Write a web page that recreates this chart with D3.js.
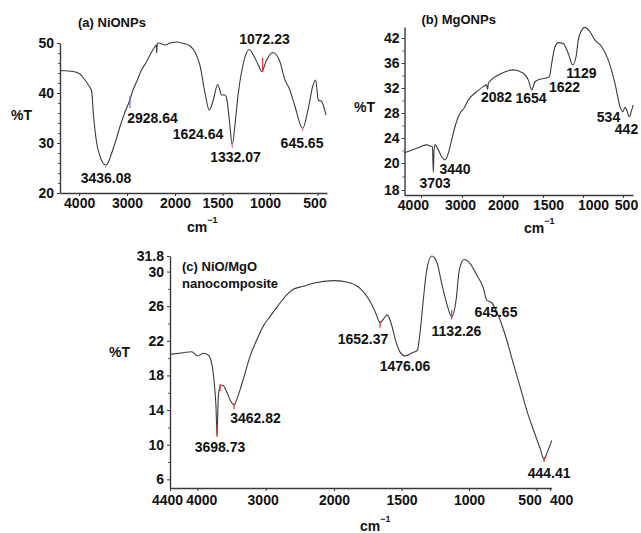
<!DOCTYPE html>
<html><head><meta charset="utf-8">
<script src="https://cdn.jsdelivr.net/npm/d3@7"></script>
<style>
body{margin:0;background:#fff;}
svg text{font-family:"Liberation Sans",Arial,sans-serif;font-weight:bold;fill:#111;}
</style></head><body>
<svg id="chart" width="641" height="533"></svg>
<script>
// ---------- Panel (a) NiONPs ----------
const aWave = [4385,4122,3983,3878,3795,3738,3705,3634,3565,3503,3446,3398,3321,3231,3148,3043,2954,2876,2799,2710,2591,2501,2417,2392,2382,2372,2349,2209,2104,1982,1926,1884,1842,1789,1737,1684,1639,1597,1551,1508,1474,1456,1428,1397,1368,1334,1281,1218,1176,1123,1087,1042,972,902,842,797,737,656,597,551,519,492,457,411];
const aT = [44.5,44.3,43.8,42.6,41.4,40.3,36.0,30.0,27.3,26.0,25.6,26.0,28.0,30.6,33.3,36.2,38.3,40.6,42.3,44.4,46.3,48.0,49.3,49.6,48.0,49.8,50.0,49.6,50.0,50.2,50.0,49.8,49.4,48.2,45.5,40.0,36.6,38.6,41.7,39.6,39.6,38.9,34.6,29.6,33.8,39.9,45.9,48.7,47.6,45.6,44.3,46.3,48.1,46.6,42.6,40.9,37.3,32.9,36.9,41.3,42.6,38.6,38.3,35.6];
const aXTicks = [4000,3000,2000,1500,1000,500];
const aYTicks = [20,30,40,50];
const aYMinor = [22,24,26,28,32,34,36,38,42,44,46,48];
const aPeakText = ["3436.08","2928.64","1624.64","1332.07","1072.23","645.65"];
const aPeakLabelWave = [3440,2470,1758,1363,1058,663];
const aPeakLabelT = [23,35,31.8,27.2,50.8,30];
const aMarkWave = [2939,1077,3446,1397,656];
const aMarkTop = [39.4,47.0,25.7,29.8,33.0];
const aMarkBottom = [37.0,44.2,25.0,29.0,32.3];
const aMarkColor = ["#6b6bdc","#d8323c","#f08080","#f08080","#f08080"];

// ---------- Panel (b) MgONPs ----------
const bWave = [4400,4103,3859,3762,3720,3698,3680,3657,3576,3494,3413,3333,3250,3170,3048,2950,2845,2641,2463,2397,2378,2353,2076,1871,1746,1684,1641,1600,1537,1475,1421,1391,1350,1309,1246,1184,1129,1087,1059,1016,975,912,850,766,684,600,537,504,475,454,421,391,371];
const bT = [21.65,22.35,22.9,22.7,22.6,19.3,22.0,22.9,22.1,21.0,20.5,21.55,23.7,25.8,27.95,28.75,30.1,31.4,32.3,32.5,31.8,32.8,34.2,34.9,34.35,33.3,31.7,33.0,33.4,33.55,33.8,35.95,39.9,40.9,40.6,38.3,35.7,37.5,41.5,43.9,44.6,43.5,41.5,39.9,36.7,32.7,29.0,28.2,28.9,28.5,27.4,28.5,29.3];
const bXTicks = [4000,3000,2000,1500,1000,500];
const bYTicks = [18,20,24,28,32,36,42];
const bYMinor = [19,22,26,30,34,39];
const bPeakText = ["3440","3703","2082","1654","1622","1129","534","442"];
const bPeakLabelWave = [3169,3657,2158,1650,1231,1019,681,456];
const bPeakLabelT = [19.53,18.54,30.6,30.35,32.1,34.45,27.4,25.4];

// ---------- Panel (c) NiO/MgO nanocomposite ----------
const cWave = [4400,4205,4082,3995,3913,3840,3790,3752,3727,3712,3693,3668,3635,3580,3522,3463,3424,3376,3302,3229,3131,3035,2937,2815,2692,2596,2449,2303,2010,1906,1807,1746,1696,1659,1630,1605,1573,1541,1511,1474,1424,1383,1363,1339,1313,1276,1239,1202,1165,1128,1096,1072,1037,993,943,894,869,832,770,721,672,622,573,523,474,444,424,387];
const cT = [20.44,20.63,20.74,20.25,20.56,20.36,19.4,17.1,14.4,11.1,15.55,16.7,16.9,16.3,15.2,14.6,15.2,16.3,18.25,20.2,22.1,23.7,24.8,26.1,27.3,27.95,28.3,28.65,28.95,28.8,28.05,26.9,25.4,24.1,24.6,25.0,23.8,21.9,20.7,20.25,20.6,20.9,22.9,26.7,30.2,31.8,31.1,28.6,26.3,24.8,26.7,30.2,31.4,30.95,29.6,28.1,26.7,26.4,24.4,22.1,19.4,16.7,14.0,11.7,9.6,8.3,9.0,10.5];
const cXTicks = [4400,4000,3000,2000,1500,1000,500,400];
const cYTicks = [6,10,14,18,22,26,30,31.8];
const cYMinor = [8,12,16,20,24,28];
const cPeakText = ["3462.82","3698.73","1652.37","1476.06","1132.26","645.65","444.41"];
const cPeakLabelWave = [3149,3668,1785,1474,1093,800,407];
const cPeakLabelT = [13.12,9.77,22.18,19.09,23.17,25.37,6.7];
const cMarkWave = [3712,3668,3463,1659,1128,444];
const cMarkTop = [12.4,17.0,14.8,24.3,25.6,8.6];
const cMarkBottom = [10.9,16.2,14.1,23.5,24.5,8.0];
const cMarkColor = ["#e03030","#e03030","#e03030","#e03030","#e03030","#e03030"];

const svg = d3.select("#chart");

function styleAxis(sel){
  sel.attr("font-family",null).attr("font-size",null);
  sel.select(".domain").attr("stroke","#3a3a3a").attr("stroke-width",1.4);
  sel.selectAll(".tick line").attr("stroke","#3a3a3a").attr("stroke-width",1);
  sel.selectAll(".tick text").style("font-size","14px").attr("fill","#111");
}

function drawPanel(p){
  const x = d3.scaleLinear().domain(p.xDomain).range(p.xRange);
  const y = d3.scaleLinear().domain(p.yDomain).range(p.yRange);
  const g = svg.append("g");
  const yBase = p.yRange[0];
  const xBase = p.xRange[0];

  // axes
  g.append("g").attr("transform",`translate(0,${yBase})`)
    .call(d3.axisBottom(x).tickValues(p.xTicks).tickFormat(d=>String(d)).tickSize(3).tickSizeOuter(0).tickPadding(p.xPad))
    .call(styleAxis)
    .call(s=>s.selectAll(".tick text").attr("dx",d=>(p.xNudge[d]||0)));
  g.append("g").attr("transform",`translate(${xBase},0)`)
    .call(d3.axisLeft(y).tickValues(p.yTicks).tickFormat(d=>String(d)).tickSize(3).tickSizeOuter(0).tickPadding(p.yPad))
    .call(styleAxis);
  g.append("g").attr("transform",`translate(${xBase},0)`)
    .call(d3.axisLeft(y).tickValues(p.yMinor).tickFormat("").tickSize(2).tickSizeOuter(0))
    .call(s=>{s.select(".domain").remove(); s.selectAll("line").attr("stroke","#555");});

  // spectrum
  const pts = d3.zip(p.wave, p.T);
  g.append("path").datum(pts)
    .attr("fill","none").attr("stroke","#3c3c3c").attr("stroke-width",1.1)
    .attr("stroke-linejoin","round")
    .attr("d", d3.line().x(d=>x(d[0])).y(d=>y(d[1])).curve(d3.curveMonotoneX));

  // peak markers
  if(p.markWave){
    g.selectAll("line.mk").data(d3.range(p.markWave.length)).join("line")
      .attr("x1",i=>x(p.markWave[i])).attr("x2",i=>x(p.markWave[i]))
      .attr("y1",i=>y(p.markTop[i])).attr("y2",i=>y(p.markBottom[i]))
      .attr("stroke",i=>p.markColor[i]).attr("stroke-width",1.2);
  }

  // peak labels
  g.selectAll("text.pk").data(d3.range(p.peakText.length)).join("text")
    .attr("x",i=>x(p.peakWave[i])).attr("y",i=>y(p.peakT[i]))
    .attr("text-anchor","middle").attr("dy","0.36em")
    .style("font-size","14px").text(i=>p.peakText[i]);

  // title
  p.title.forEach((t,i)=>{
    g.append("text").attr("x",p.titlePos[0]).attr("y",p.titlePos[1]+i*16.7)
      .style("font-size","13px").text(t);
  });
  // %T
  g.append("text").attr("x",p.tPos[0]).attr("y",p.tPos[1]).style("font-size","14px").text("%T");
  // cm-1
  const cm = g.append("text").attr("x",p.cmPos[0]).attr("y",p.cmPos[1]).style("font-size","14px");
  cm.append("tspan").text("cm");
  cm.append("tspan").attr("dy",-9).style("font-size","9px").text("\u22121");
}

drawPanel({wave:aWave,T:aT,xDomain:[4400,2000,400],xRange:[60,175,327],yDomain:[20,50],yRange:[193,43],
  xTicks:aXTicks,yTicks:aYTicks,yMinor:aYMinor,xPad:2,yPad:3,xNudge:{1500:-5,1000:-5,500:-3},
  peakText:aPeakText,peakWave:aPeakLabelWave,peakT:aPeakLabelT,
  markWave:aMarkWave,markTop:aMarkTop,markBottom:aMarkBottom,markColor:aMarkColor,
  title:["(a) NiONPs"],titlePos:[78,26.5],tPos:[11,120],cmPos:[187,232]});

drawPanel({wave:bWave,T:bT,xDomain:[4400,2000,375],xRange:[404.5,503,633],
  yDomain:[17.63,18,20,36,42,44.7],yRange:[195,190,163,63,38,27],
  xTicks:bXTicks,yTicks:bYTicks,yMinor:bYMinor,xPad:2,yPad:2,xNudge:{4000:-8,3000:-2,1500:5,1000:10,500:3},
  peakText:bPeakText,peakWave:bPeakLabelWave,peakT:bPeakLabelT,
  title:["(b) MgONPs"],titlePos:[421.5,24],tPos:[354,112],cmPos:[524,233]});

drawPanel({wave:cWave,T:cT,xDomain:[4400,2000,390],xRange:[170,334,551.4],yDomain:[5,31.8],yRange:[488,256],
  xTicks:cXTicks,yTicks:cYTicks,yMinor:cYMinor,xPad:4,yPad:3,xNudge:{4400:-3,4000:4,3000:-3,500:-7,400:11},
  peakText:cPeakText,peakWave:cPeakLabelWave,peakT:cPeakLabelT,
  markWave:cMarkWave,markTop:cMarkTop,markBottom:cMarkBottom,markColor:cMarkColor,
  title:["(c) NiO/MgO","nanocomposite"],titlePos:[182,271.3],tPos:[109,357],cmPos:[360,531]});
</script>
</body></html>
